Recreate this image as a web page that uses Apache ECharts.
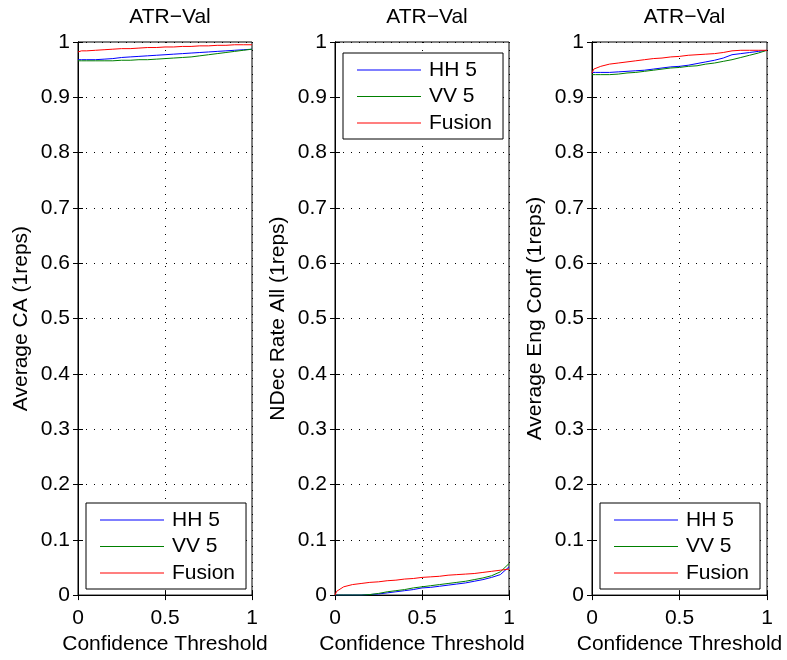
<!DOCTYPE html>
<html>
<head>
<meta charset="utf-8">
<script src="https://cdn.jsdelivr.net/npm/echarts@6/dist/echarts.min.js"></script>
<style>html,body{margin:0;padding:0;background:#fff}#c{width:787px;height:660px}</style>
</head>
<body>
<div id="c"></div>
<script>
// ---- data ----
const thresholds = [0,0.01,0.02,0.05,0.1,0.15,0.2,0.25,0.3,0.35,0.4,0.45,0.5,0.55,0.6,0.65,0.7,0.75,0.8,0.85,0.9,0.95,1];
const seriesNames = ['HH 5','VV 5','Fusion'];
const panelTitles = ['ATR\u2212Val','ATR\u2212Val','ATR\u2212Val'];
const yLabels = ['Average CA (1reps)','NDec Rate All (1reps)','Average Eng Conf (1reps)'];
const xLabel = 'Confidence Threshold';

// panel 1: Average CA
const caHH     = [0.968,0.968,0.968,0.968,0.968,0.969,0.970,0.972,0.973,0.974,0.975,0.976,0.977,0.978,0.979,0.980,0.981,0.982,0.983,0.984,0.985,0.986,0.987];
const caVV     = [0.966,0.966,0.966,0.966,0.966,0.966,0.966,0.967,0.967,0.968,0.968,0.969,0.970,0.971,0.972,0.973,0.975,0.977,0.979,0.981,0.983,0.985,0.987];
const caFusion = [0.982,0.983,0.984,0.984,0.985,0.986,0.987,0.988,0.988,0.989,0.990,0.990,0.991,0.991,0.992,0.992,0.993,0.993,0.994,0.994,0.995,0.995,0.995];

// panel 2: NDec Rate All
const ndHH     = [0,0,0,0,0,0,0.001,0.002,0.004,0.006,0.008,0.010,0.013,0.014,0.016,0.018,0.020,0.022,0.025,0.028,0.032,0.037,0.051];
const ndVV     = [0,0,0,0,0,0,0.001,0.003,0.006,0.008,0.010,0.013,0.015,0.017,0.019,0.021,0.023,0.025,0.028,0.031,0.035,0.042,0.057];
const ndFusion = [0,0.007,0.010,0.015,0.019,0.021,0.023,0.024,0.026,0.027,0.029,0.030,0.032,0.033,0.034,0.036,0.037,0.038,0.039,0.041,0.043,0.045,0.047];

// panel 3: Average Eng Conf
const ecHH     = [0.945,0.945,0.945,0.945,0.945,0.946,0.947,0.948,0.949,0.951,0.953,0.955,0.956,0.958,0.961,0.964,0.967,0.971,0.977,0.979,0.981,0.983,0.985];
const ecVV     = [0.941,0.941,0.941,0.941,0.941,0.942,0.944,0.945,0.947,0.949,0.951,0.953,0.954,0.956,0.957,0.960,0.962,0.965,0.968,0.972,0.976,0.980,0.985];
const ecFusion = [0.944,0.951,0.953,0.956,0.960,0.962,0.964,0.966,0.968,0.970,0.971,0.973,0.974,0.976,0.977,0.978,0.979,0.981,0.984,0.985,0.985,0.985,0.985];

const xTicks = {min:0, max:1, interval:0.5};
const yTicks = {min:0, max:1, interval:0.1};
const colors = ['#0000ff','#008000','#ff0000'];

const panels = [
  [caHH, caVV, caFusion],
  [ndHH, ndVV, ndFusion],
  [ecHH, ecVV, ecFusion]
];

// ---- layout ----
const FONT = '"Liberation Sans", Arial, Helvetica, sans-serif';
const FS = 21;
const grids = [
  {left:78, top:42, width:174, height:558},
  {left:335, top:42, width:174, height:558},
  {left:592, top:42, width:175, height:558}
];
const legendPos = [
  {left:86, top:503},
  {left:343, top:53},
  {left:600, top:503}
];

const option = {
  animation:false,
  backgroundColor:'#fff',
  textStyle:{fontFamily:FONT},
  title: grids.map((g,i)=>({
    text: panelTitles[i],
    left: g.left + g.width/2,
    top: 2,
    textAlign:'center',
    textStyle:{fontFamily:FONT, fontSize:FS, fontWeight:'normal', color:'#000'}
  })),
  grid: grids.map(g=>Object.assign({show:true, borderColor:'#000', borderWidth:1, backgroundColor:'#fff'}, g)),
  legend: legendPos.map((p,i)=>({
    orient:'vertical',
    left:p.left, top:p.top,
    data: seriesNames,
    icon:'rect',
    itemWidth:64, itemHeight:1,
    itemGap:5.5,
    padding:[6.5,11,5.5,14],
    borderColor:'#000', borderWidth:1,
    backgroundColor:'#fff',
    selectedMode:false,
    textStyle:{fontFamily:FONT, fontSize:FS, color:'#000', padding:[0,0,0,3]}
  })),
  xAxis: [],
  yAxis: [],
  series: []
};

const dotted = {color:'#000', width:1, type:[1,7]};
grids.forEach((g,i)=>{
  option.xAxis.push({
    type:'value', gridIndex:i, position:'bottom',
    min:xTicks.min, max:xTicks.max, interval:xTicks.interval,
    name:xLabel, nameLocation:'middle', nameGap:34,
    nameTextStyle:{fontFamily:FONT, fontSize:FS, color:'#000'},
    axisLine:{show:true, lineStyle:{color:'#000'}},
    axisTick:{show:true, inside:true, length:5, lineStyle:{color:'#000'}},
    axisLabel:{fontFamily:FONT, fontSize:FS, color:'#000', margin:13},
    splitLine:{show:true, lineStyle:dotted}
  });
  option.yAxis.push({
    type:'value', gridIndex:i, position:'left',
    min:yTicks.min, max:yTicks.max, interval:yTicks.interval,
    name:yLabels[i], nameLocation:'middle', nameRotate:90, nameGap:46,
    nameTextStyle:{fontFamily:FONT, fontSize:FS, color:'#000'},
    axisLine:{show:true, lineStyle:{color:'#000'}},
    axisTick:{show:true, inside:true, length:5, lineStyle:{color:'#000'}},
    axisLabel:{fontFamily:FONT, fontSize:FS, color:'#000', margin:8},
    splitLine:{show:true, lineStyle:dotted}
  });
});
grids.forEach((g,i)=>{
  option.xAxis.push({
    type:'value', gridIndex:i, position:'top',
    min:xTicks.min, max:xTicks.max, interval:xTicks.interval,
    axisLine:{show:true, lineStyle:{color:'#000'}},
    axisTick:{show:true, inside:true, length:5, lineStyle:{color:'#000'}},
    axisLabel:{show:false}, splitLine:{show:false}
  });
  option.yAxis.push({
    type:'value', gridIndex:i, position:'right',
    min:yTicks.min, max:yTicks.max, interval:yTicks.interval,
    axisLine:{show:true, lineStyle:{color:'#000'}},
    axisTick:{show:true, inside:true, length:5, lineStyle:{color:'#000'}},
    axisLabel:{show:false}, splitLine:{show:false}
  });
});

panels.forEach((vals,i)=>{
  vals.forEach((arr,k)=>{
    option.series.push({
      name: seriesNames[k],
      type:'line',
      xAxisIndex:i, yAxisIndex:i,
      data: thresholds.map((x,j)=>[x, arr[j]]),
      symbol:'none',
      color: colors[k],
      lineStyle:{width:1, color:colors[k]},
      z: 2 + (k===2 ? 1 : 0)
    });
  });
});

const chart = echarts.init(document.getElementById('c'), null, {renderer:'canvas'});
chart.setOption(option);
</script>
</body>
</html>
